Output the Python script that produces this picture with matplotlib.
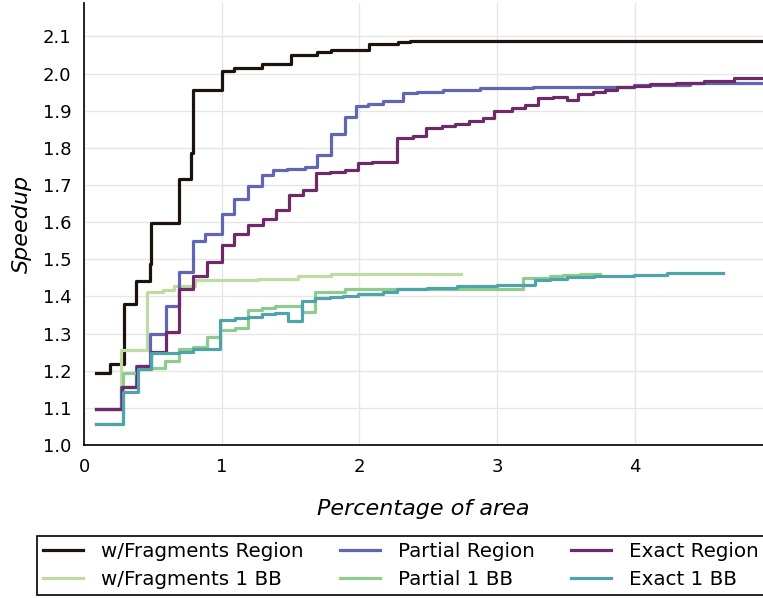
import matplotlib
matplotlib.use("Agg")
from matplotlib import pyplot as plt

# step data (x = percentage of area, y = speedup)
frag_region_x = [0.09, 0.19, 0.29, 0.38, 0.48, 0.49, 0.69, 0.78, 0.79, 1.0,
                 1.09, 1.29, 1.5, 1.69, 1.79, 2.07, 2.28, 2.37, 5.0]
frag_region_y = [1.195, 1.218, 1.379, 1.442, 1.487, 1.598, 1.716, 1.787, 1.957, 2.006,
                 2.014, 2.027, 2.050, 2.059, 2.063, 2.080, 2.085, 2.089, 2.089]

frag_bb_x = [0.09, 0.27, 0.46, 0.576, 0.65, 0.806, 1.266, 1.556, 1.79, 2.74]
frag_bb_y = [1.096, 1.255, 1.413, 1.416, 1.427, 1.443, 1.447, 1.456, 1.461, 1.461]

partial_region_x = [0.09, 0.27, 0.38, 0.48, 0.596, 0.69, 0.794, 0.88, 1.0, 1.09,
                    1.193, 1.29, 1.375, 1.472, 1.605, 1.69, 1.79, 1.895, 1.975, 2.065,
                    2.174, 2.319, 2.416, 2.609, 2.876, 3.26, 3.99, 4.4, 5.0]
partial_region_y = [1.096, 1.157, 1.214, 1.299, 1.373, 1.467, 1.550, 1.569, 1.623, 1.663,
                    1.698, 1.728, 1.740, 1.744, 1.748, 1.780, 1.838, 1.883, 1.912, 1.919,
                    1.926, 1.949, 1.951, 1.955, 1.960, 1.963, 1.969, 1.974, 1.974]

partial_bb_x = [0.09, 0.28, 0.39, 0.49, 0.588, 0.69, 0.794, 0.89, 0.99, 1.097,
                1.19, 1.29, 1.387, 1.58, 1.677, 1.895, 3.186, 3.384, 3.48, 3.6, 3.75]
partial_bb_y = [1.056, 1.193, 1.204, 1.206, 1.225, 1.258, 1.265, 1.290, 1.310, 1.314,
                1.364, 1.368, 1.373, 1.357, 1.413, 1.420, 1.449, 1.456, 1.458, 1.461, 1.461]

exact_region_x = [0.09, 0.274, 0.383, 0.49, 0.596, 0.692, 0.794, 0.891, 1.0, 1.089,
                  1.193, 1.298, 1.394, 1.491, 1.593, 1.685, 1.787, 1.895, 1.992, 2.089,
                  2.27, 2.391, 2.484, 2.598, 2.694, 2.798, 2.895, 2.977, 3.106, 3.203,
                  3.299, 3.408, 3.505, 3.590, 3.699, 3.784, 3.868, 3.99, 4.11, 4.30,
                  4.50, 4.72, 5.0]
exact_region_y = [1.096, 1.157, 1.214, 1.250, 1.304, 1.420, 1.454, 1.494, 1.539, 1.569,
                  1.591, 1.609, 1.634, 1.674, 1.686, 1.731, 1.735, 1.740, 1.758, 1.762,
                  1.827, 1.831, 1.854, 1.858, 1.863, 1.872, 1.881, 1.899, 1.908, 1.915,
                  1.933, 1.937, 1.930, 1.946, 1.951, 1.957, 1.963, 1.966, 1.971, 1.975,
                  1.981, 1.987, 1.987]

exact_bb_x = [0.09, 0.286, 0.39, 0.49, 0.69, 0.794, 0.99, 1.097, 1.19, 1.29,
              1.387, 1.484, 1.58, 1.677, 1.787, 1.883, 1.992, 2.174, 2.27, 2.49,
              2.71, 3.0, 3.275, 3.384, 3.505, 3.70, 3.99, 4.23, 4.64]
exact_bb_y = [1.056, 1.143, 1.205, 1.247, 1.251, 1.258, 1.337, 1.341, 1.345, 1.352,
              1.356, 1.335, 1.388, 1.395, 1.398, 1.402, 1.407, 1.413, 1.420, 1.424,
              1.429, 1.431, 1.445, 1.448, 1.451, 1.456, 1.459, 1.462, 1.462]

series = [
    ("w/Fragments Region", frag_region_x, frag_region_y, "#1c130c"),
    ("w/Fragments 1 BB", frag_bb_x, frag_bb_y, "#bfdaa3"),
    ("Partial Region", partial_region_x, partial_region_y, "#5f66b4"),
    ("Partial 1 BB", partial_bb_x, partial_bb_y, "#8fcb8e"),
    ("Exact Region", exact_region_x, exact_region_y, "#6d2968"),
    ("Exact 1 BB", exact_bb_x, exact_bb_y, "#50a3a6"),
]

fig = plt.figure(figsize=(7.63, 5.98), dpi=100)
ax = fig.add_axes([84 / 763, 153 / 598, 679 / 763, 442 / 598])

for label, xs, ys, color in series:
    ax.step(xs, ys, where="post", color=color, linewidth=2.3, label=label)

ax.set_xlim(0, 4.93)
ax.set_ylim(1.0, 2.19)
ax.set_xticks([0, 1, 2, 3, 4])
ax.set_yticks([1.0, 1.1, 1.2, 1.3, 1.4, 1.5, 1.6, 1.7, 1.8, 1.9, 2.0, 2.1])
ax.set_yticklabels(["1.0", "1.1", "1.2", "1.3", "1.4", "1.5", "1.6",
                    "1.7", "1.8", "1.9", "2.0", "2.1"])
ax.tick_params(length=0, pad=9, labelsize=13)
ax.grid(True, color="#e6e6e6", linewidth=1)
ax.set_axisbelow(True)

for side in ["top", "right"]:
    ax.spines[side].set_visible(False)
for side in ["left", "bottom"]:
    ax.spines[side].set_color("black")
    ax.spines[side].set_linewidth(1.2)

ax.set_xlabel("Percentage of area", fontsize=16, style="italic", labelpad=17)
ax.set_ylabel("Speedup", fontsize=16, style="italic", labelpad=8)

leg = fig.legend(loc="upper left", bbox_to_anchor=(37 / 763, 1 - 536 / 598),
                 ncol=3, fontsize=14.3, frameon=True, fancybox=False,
                 edgecolor="black", framealpha=1, borderaxespad=0,
                 handlelength=2.0, handletextpad=0.9, columnspacing=1.85,
                 borderpad=0.3, labelspacing=0.45)
leg.get_frame().set_linewidth(1.2)

fig.savefig("out.png", dpi=100)
